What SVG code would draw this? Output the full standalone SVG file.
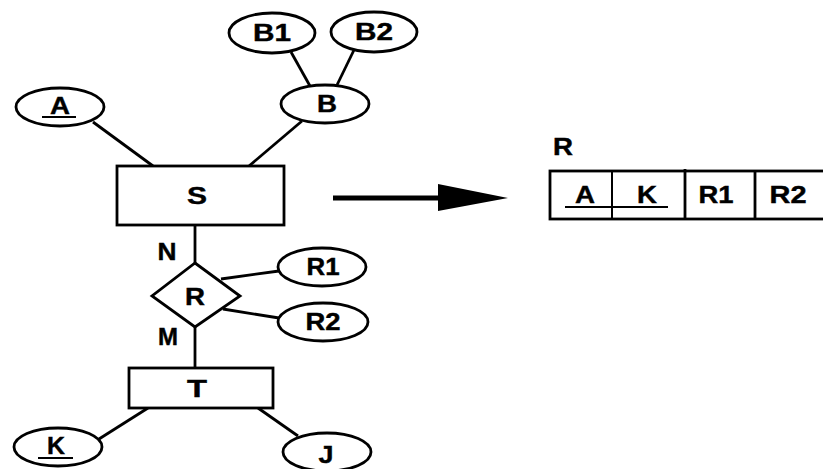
<svg xmlns="http://www.w3.org/2000/svg" width="823" height="469" viewBox="0 0 823 469">
<style>
.shape{fill:#fff;stroke:#000;stroke-width:2.8}
.edge{stroke:#000;stroke-width:2.8;fill:none}
.ul{stroke:#000;stroke-width:2}
text{font-family:"Liberation Sans",Arial,sans-serif;font-weight:bold;font-size:23px;fill:#000;text-anchor:middle;stroke:#000;stroke-width:0.4}
</style>
<rect width="823" height="469" fill="#fff"/>
<g id="connectors">
<line class="edge" x1="93" y1="122" x2="153" y2="166"/>
<line class="edge" x1="302" y1="121" x2="249" y2="166"/>
<line class="edge" x1="291" y1="52" x2="310" y2="86"/>
<line class="edge" x1="354" y1="50" x2="337" y2="85"/>
<line class="edge" x1="195" y1="225" x2="195" y2="263"/>
<line class="edge" x1="221" y1="279" x2="279" y2="271"/>
<line class="edge" x1="223" y1="309" x2="279" y2="318"/>
<line class="edge" x1="195" y1="327" x2="195" y2="368"/>
<line class="edge" x1="148" y1="408" x2="99" y2="439"/>
<line class="edge" x1="258" y1="408" x2="298" y2="436"/>
<line x1="333" y1="198" x2="442" y2="198" stroke="#000" stroke-width="5"/>
<polygon points="438,184 508,198 438,211" fill="#000"/>
<text x="167" y="260" textLength="19" lengthAdjust="spacingAndGlyphs">N</text>
<text x="168" y="345" textLength="20" lengthAdjust="spacingAndGlyphs">M</text>
</g>
<g id="B1"><ellipse class="shape" cx="272" cy="33" rx="43" ry="20"/><text x="272" y="41" textLength="38" lengthAdjust="spacingAndGlyphs">B1</text></g>
<g id="B2"><ellipse class="shape" cx="374" cy="32" rx="43" ry="20"/><text x="374" y="40" textLength="38" lengthAdjust="spacingAndGlyphs">B2</text></g>
<g id="B"><ellipse class="shape" cx="325" cy="104" rx="44" ry="19"/><text x="327" y="112" textLength="20" lengthAdjust="spacingAndGlyphs">B</text></g>
<g id="A"><ellipse class="shape" cx="60" cy="107" rx="44" ry="19"/><text x="60" y="114" textLength="20" lengthAdjust="spacingAndGlyphs">A</text><line class="ul" x1="42" y1="117" x2="76" y2="117"/></g>
<g id="S"><rect class="shape" x="117" y="166" width="167" height="59"/><text x="197" y="204" textLength="20" lengthAdjust="spacingAndGlyphs">S</text></g>
<g id="R"><polygon class="shape" points="195,263 240,296 195,327 152,296"/><text x="195" y="305" textLength="20" lengthAdjust="spacingAndGlyphs">R</text></g>
<g id="R1"><ellipse class="shape" cx="322" cy="267" rx="44" ry="19"/><text x="323" y="275" textLength="33" lengthAdjust="spacingAndGlyphs">R1</text></g>
<g id="R2"><ellipse class="shape" cx="323" cy="322" rx="45" ry="19"/><text x="323" y="330" textLength="35" lengthAdjust="spacingAndGlyphs">R2</text></g>
<g id="T"><rect class="shape" x="129" y="368" width="144" height="40"/><text x="197" y="397" textLength="20" lengthAdjust="spacingAndGlyphs">T</text></g>
<g id="K"><ellipse class="shape" cx="58" cy="447" rx="44" ry="19"/><text x="56" y="454" textLength="18" lengthAdjust="spacingAndGlyphs">K</text><line class="ul" x1="38" y1="458" x2="73" y2="458"/></g>
<g id="J"><ellipse class="shape" cx="327" cy="452" rx="44" ry="19"/><text x="326" y="463" textLength="15" lengthAdjust="spacingAndGlyphs">J</text></g>
<g id="table">
<text x="563" y="155" textLength="20" lengthAdjust="spacingAndGlyphs">R</text>
<rect class="shape" x="550" y="171" width="285" height="48"/>
<line class="edge" x1="612" y1="171" x2="612" y2="219" style="stroke-width:2"/>
<line class="edge" x1="685" y1="169" x2="685" y2="219"/>
<line class="edge" x1="755" y1="171" x2="755" y2="219"/>
<text x="585" y="203" textLength="20" lengthAdjust="spacingAndGlyphs">A</text>
<text x="647" y="203" textLength="20" lengthAdjust="spacingAndGlyphs">K</text>
<text x="716" y="203" textLength="35" lengthAdjust="spacingAndGlyphs">R1</text>
<text x="788" y="203" textLength="37" lengthAdjust="spacingAndGlyphs">R2</text>
<line class="ul" x1="565" y1="207" x2="668" y2="207"/>
</g>
</svg>
